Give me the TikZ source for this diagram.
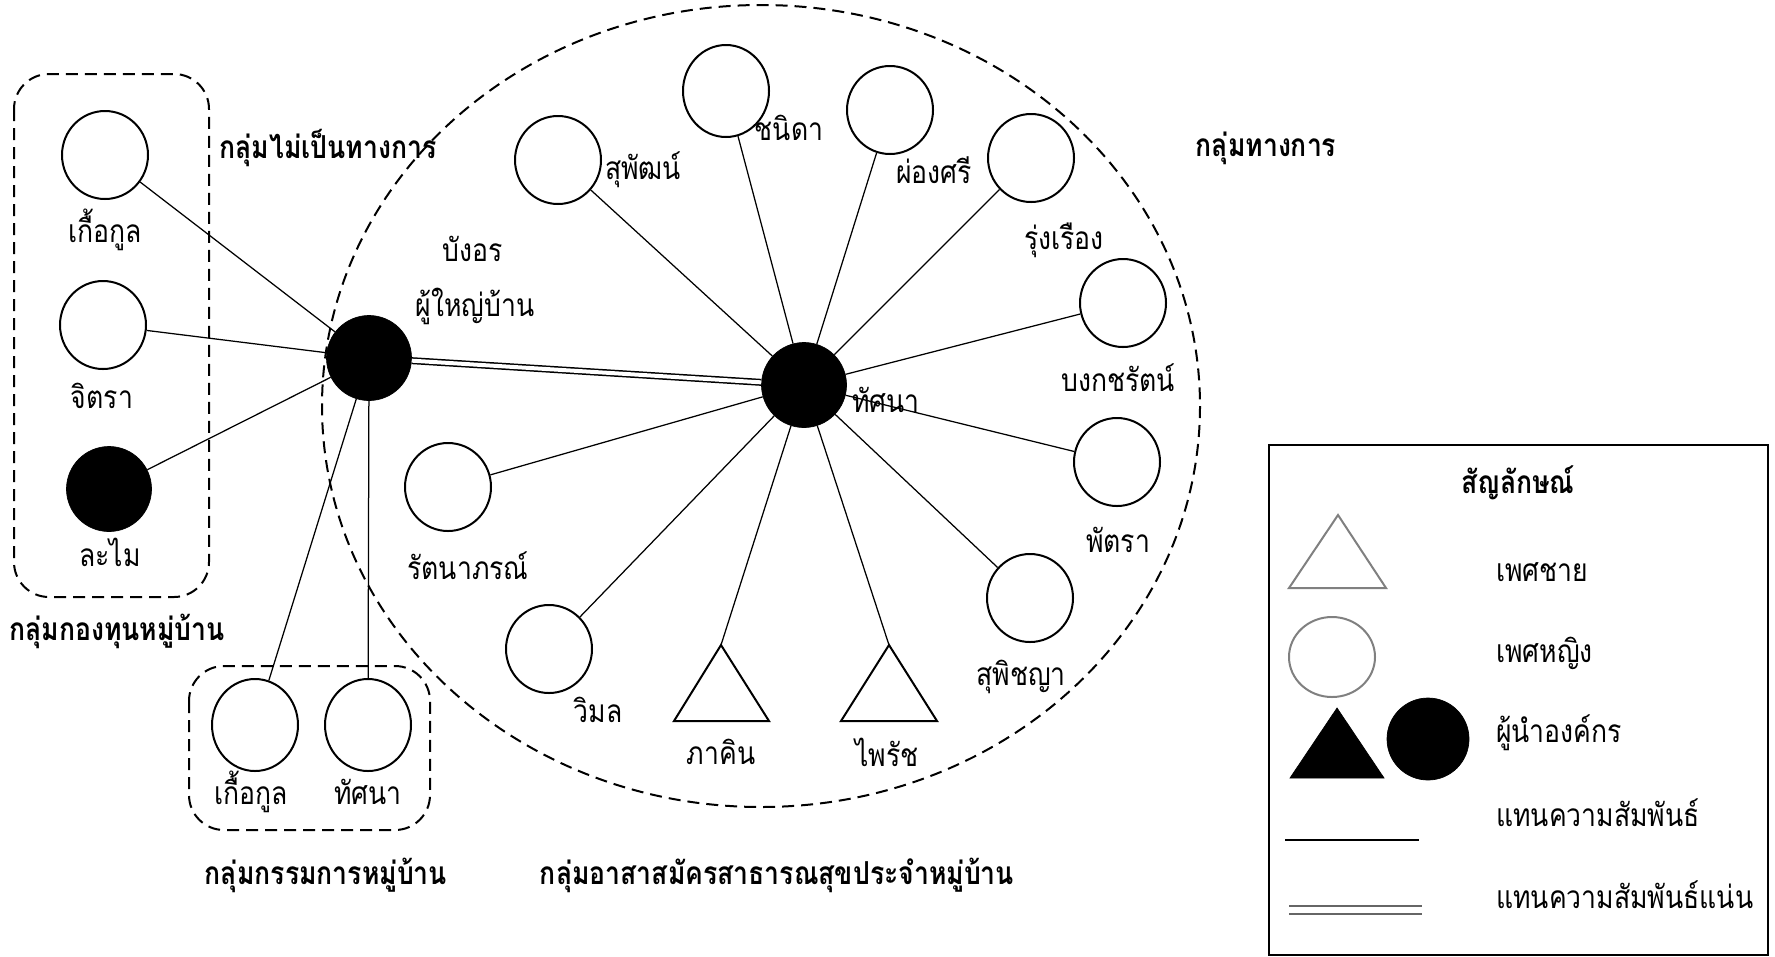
\documentclass[tikz,border=0pt]{standalone}
\usepackage{fontspec}
\usetikzlibrary{shapes.geometric}
\newfontfamily\thaifont[Script=Thai,FakeStretch=0.84]{Loma}
\begin{document}
\begin{tikzpicture}
    [
        x=0.2mm, y=-0.2mm,
        every node/.style={font=\thaifont\fontsize{18}{21}\selectfont},
        woman/.style={ellipse, draw, line width=0.4mm, minimum width=17.2mm, minimum height=17.6mm, inner sep=0pt},
        leader/.style={ellipse, draw, fill=black, minimum width=17mm, minimum height=17mm, inner sep=0pt},
        man/.style={draw, line width=0.4mm},
        tie/.style={line width=0.25mm},
        closetie/.style={double, double distance=0.8mm, line width=0.3mm},
        groupline/.style={draw, dash pattern=on 2.4mm off 1.4mm, line width=0.4mm},
        grouptitle/.style={font=\thaifont\bfseries\fontsize{18}{21}\selectfont},
    ]
    \useasboundingbox (0,0) rectangle (1775,956);
    % groups
    \draw [groupline, rounded corners=7mm] (14,74) rectangle (209,597);
    \draw [groupline, rounded corners=7mm] (189,666) rectangle (430,830);
    \draw [groupline] (761,406) ellipse [x radius=439, y radius=401];
    \node (g1) at (117,631) [grouptitle] {กลุ่มกองทุนหมู่บ้าน};
    \node (g2) at (328,148) [grouptitle] {กลุ่มไม่เป็นทางการ};
    \node (g3) at (326,875) [grouptitle] {กลุ่มกรรมการหมู่บ้าน};
    \node (g4) at (777,875) [grouptitle] {กลุ่มอาสาสมัครสาธารณสุขประจำหมู่บ้าน};
    \node (g5) at (1266,148) [grouptitle] {กลุ่มทางการ};
    % village fund
    \node (kk1) at (105,155) [woman] {};
    \node (jt) at (103,325) [woman] {};
    \node (lm) at (109,489) [leader] {};
    \node (kk1l) at (105,230) {เกื้อกูล};
    \node (jtl) at (102,396) {จิตรา};
    \node (lml) at (110,552) {ละไม};
    % committee
    \node (kk2) at (255,725) [woman, minimum height=18.4mm] {};
    \node (ts2) at (368,725) [woman, minimum height=18.4mm] {};
    \node (kk2l) at (251,792) {เกื้อกูล};
    \node (ts2l) at (368,792) {ทัศนา};
    % leaders
    \node (head) at (369,358) [leader] {};
    \node (ts) at (804,385) [leader] {};
    \node (headl1) at (473,249) {บังอร};
    \node (headl2) at (475,306) {ผู้ใหญ่บ้าน};
    \node (tsl) at (886,400) {ทัศนา};
    % health volunteers
    \node (sp) at (558,160) [woman] {};
    \node (cn) at (726,91) [woman, minimum height=18.4mm] {};
    \node (ps) at (890,110) [woman] {};
    \node (rr) at (1031,158) [woman] {};
    \node (bk) at (1123,303) [woman] {};
    \node (pt) at (1117,462) [woman] {};
    \node (sc) at (1030,598) [woman] {};
    \node (rt) at (448,487) [woman] {};
    \node (wm) at (549,649) [woman] {};
    \coordinate (pk) at (721,645);
    \coordinate (pr) at (889,645);
    \draw [man] (pk) -- ++(-47,76) -- ++(95,0) -- cycle;
    \draw [man] (pr) -- ++(-48,76) -- ++(96,0) -- cycle;
    \node (spl) at (643,170) {สุพัฒน์};
    \node (cnl) at (789,128) {ชนิดา};
    \node (psl) at (934,170) {ผ่องศรี};
    \node (rrl) at (1064,240) {รุ่งเรือง};
    \node (bkl) at (1118,378) {บงกชรัตน์};
    \node (ptl) at (1118,540) {พัตรา};
    \node (scl) at (1021,677) {สุพิชญา};
    \node (rtl) at (468,566) {รัตนาภรณ์};
    \node (wml) at (598,710) {วิมล};
    \node (pkl) at (721,752) {ภาคิน};
    \node (prl) at (887,752) {ไพรัช};
    % ties
    \draw [tie] (kk1) -- (head);
    \draw [tie] (jt) -- (head);
    \draw [tie] (lm) -- (head);
    \draw [tie] (kk2) -- (head) -- (ts2);
    \draw [closetie] (head) -- (ts);
    \draw [tie] (ts) -- (sp);
    \draw [tie] (ts) -- (cn);
    \draw [tie] (ts) -- (ps);
    \draw [tie] (ts) -- (rr);
    \draw [tie] (ts) -- (bk);
    \draw [tie] (ts) -- (pt);
    \draw [tie] (ts) -- (sc);
    \draw [tie] (ts) -- (rt);
    \draw [tie] (ts) -- (wm);
    \draw [tie] (ts) -- (pk);
    \draw [tie] (ts) -- (pr);
    % legend
    \draw [line width=0.4mm] (1269,445) rectangle (1768,955);
    \node (lg) at (1518,483) [grouptitle] {สัญลักษณ์};
    \draw [man, gray] (1338,515) -- (1289,588) -- (1386,588) -- cycle;
    \node (lgw) at (1332,657) [woman, gray, minimum width=17.2mm, minimum height=16mm] {};
    \draw [fill=black] (1337,708) -- (1290,778) -- (1384,778) -- cycle;
    \node (lgl) at (1428,739) [leader, minimum width=16.4mm, minimum height=16.4mm] {};
    \draw [tie, line width=0.35mm] (1285,840) -- (1419,840);
    \draw [closetie, double distance=1.3mm, gray!80!black] (1289,910) -- (1422,910);
    \node (lg1) at (1490,572) [anchor=west] {เพศชาย};
    \node (lg2) at (1490,653) [anchor=west] {เพศหญิง};
    \node (lg3) at (1490,733) [anchor=west] {ผู้นำองค์กร};
    \node (lg4) at (1490,813) [anchor=west] {แทนความสัมพันธ์};
    \node (lg5) at (1490,895) [anchor=west] {แทนความสัมพันธ์แน่น};
\end{tikzpicture}
\end{document}
